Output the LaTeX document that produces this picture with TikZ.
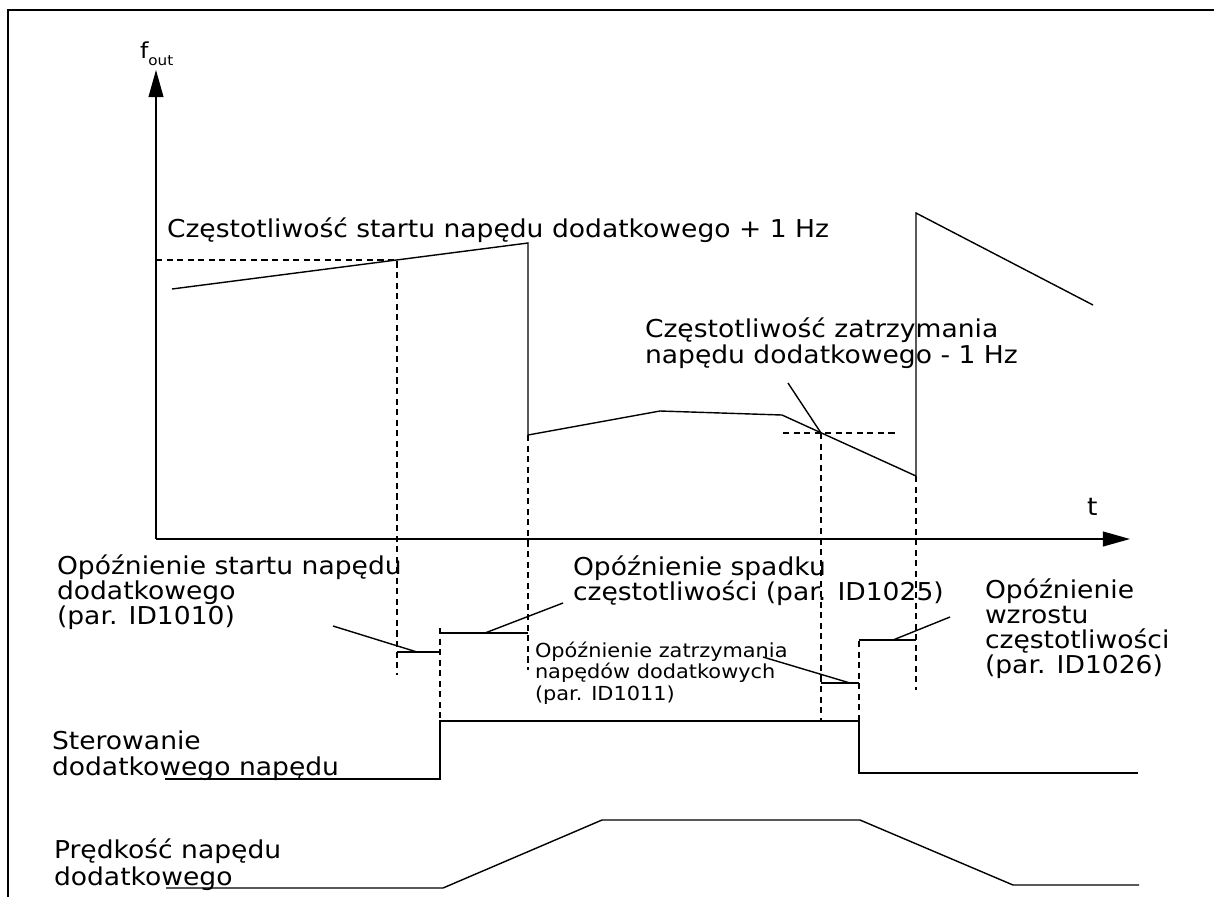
\documentclass[tikz,border=0pt]{standalone}
\usepackage{fontspec}
\setmainfont{DejaVu Sans}[FakeStretch=1.08]
\usepackage{tikz}
\usetikzlibrary{arrows.meta, positioning, calc}

\begin{document}
\begin{tikzpicture}[
    x=0.02cm, y=-0.02cm,
    every node/.style={inner sep=0pt, outer sep=0pt},
    lbl/.style={font=\fontsize{14}{14.2}\selectfont, align=left, anchor=base west},
    lblsmall/.style={font=\fontsize{11}{12}\selectfont, align=left, anchor=base west},
    sig/.style={line width=0.8pt},
    guide/.style={line width=0.6pt, dash pattern=on 3.5pt off 2.5pt},
    axis/.style={line width=0.8pt, -{Triangle[length=15.5pt, width=8.5pt]}},
]
    \useasboundingbox (0,0) rectangle (1214,897);

    % frame
    \draw[line width=0.8pt] (1214,10) -- (8,10) -- (8,897);

    % axes
    \coordinate (o) at (156,539);
    \coordinate (ytip) at (156,70);
    \coordinate (xtip) at (1130,539);
    \draw[axis] (o) -- (ytip);
    \draw[axis] (o) -- (xtip);
    \node[anchor=base west, font=\fontsize{12.5}{12.5}\selectfont] (fout) at (140,58)
        {f\raisebox{-0.6ex}{\fontsize{8}{8}\selectfont out}};
    \node[lbl] (tlab) at (1087,515) {t};

    % output frequency
    \coordinate (f0) at (172,289);
    \coordinate (f1) at (528,243);
    \coordinate (f2) at (528,435);
    \coordinate (f3) at (660,411);
    \coordinate (f4) at (782,415);
    \coordinate (f5) at (916,476);
    \coordinate (f6) at (916,213);
    \coordinate (f7) at (1093,305);
    \draw[sig] (f0) -- (f1) -- (f2) -- (f3) -- (f4) -- (f5) -- (f6) -- (f7);

    % start / stop levels
    \coordinate (s1) at (397,260);
    \coordinate (s2) at (821,433);
    \draw[guide] (156,260) -- (s1) -- (397,675);
    \draw[guide] (783,433) -- (897,433);
    \draw[guide] (s2) -- (821,720);
    \draw[guide] (f2) -- (528,670);
    \draw[guide] (f5) -- (916,690);
    \draw[guide] (440,628) -- (440,721);
    \draw[guide] (859,641) -- (859,721);

    \node[lbl] (startlab) at (167,237) {Częstotliwość startu napędu dodatkowego + 1 Hz};
    \node[lbl, font=\fontsize{14}{14.8}\selectfont] (stoplab) at (645,363)
        {Częstotliwość zatrzymania\\napędu dodatkowego - 1 Hz};
    \coordinate (stopleader) at (788,383);
    \draw[sig] (stopleader) -- (s2);

    % delay bars
    \coordinate (d1a) at (397,652);
    \coordinate (d1b) at (440,652);
    \coordinate (d2a) at (440,633);
    \coordinate (d2b) at (528,633);
    \coordinate (d3a) at (821,683);
    \coordinate (d3b) at (859,683);
    \coordinate (d4a) at (859,640);
    \coordinate (d4b) at (916,640);
    \draw[sig] (d1a) -- (d1b);
    \draw[sig] (d2a) -- (d2b);
    \draw[sig] (d3a) -- (d3b);
    \draw[sig] (d4a) -- (d4b);

    \node[lbl] (del1) at (57,624) {Opóźnienie startu napędu\\dodatkowego\\(par. ID1010)};
    \node[lbl] (del2) at (573,600) {Opóźnienie spadku\\częstotliwości (par. ID1025)};
    \node[lblsmall] (del3) at (535,700) {Opóźnienie zatrzymania\\napędów dodatkowych\\(par. ID1011)};
    \node[lbl] (del4) at (985,673) {Opóźnienie\\wzrostu\\częstotliwości\\(par. ID1026)};

    \draw[sig] (333,626) -- (417,652);
    \draw[sig] (563,603) -- (485,633);
    \draw[sig] (763,657) -- (850,683);
    \draw[sig] (950,617) -- (893,640);

    % auxiliary drive control
    \draw[sig] (165,779) -- (440,779) -- (440,721) -- (859,721) -- (859,773) -- (1138,773);
    \node[lbl, font=\fontsize{14}{14.8}\selectfont] (ctrl) at (52,775) {Sterowanie\\dodatkowego napędu};

    % auxiliary drive speed
    \draw[sig] (166,888) -- (443,888) -- (602,820) -- (860,820) -- (1013,885) -- (1139,885);
    \node[lbl, font=\fontsize{14}{15.3}\selectfont] (speed) at (54,885) {Prędkość napędu\\dodatkowego};
\end{tikzpicture}
\end{document}
